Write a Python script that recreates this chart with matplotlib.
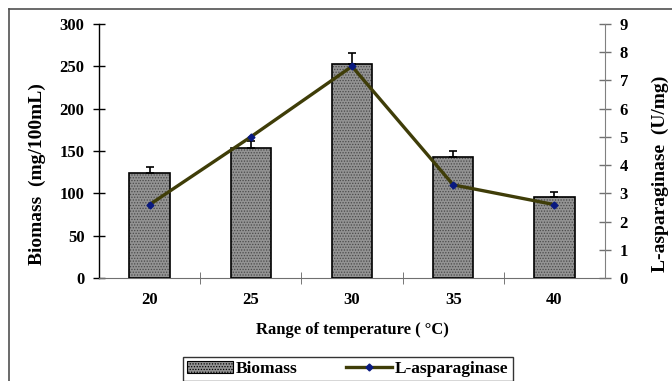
import matplotlib
matplotlib.use("Agg")
import matplotlib.pyplot as plt
from matplotlib.lines import Line2D
from matplotlib.patches import Patch
import numpy as np

plt.rcParams['font.family'] = ['Liberation Serif', 'DejaVu Serif']
plt.rcParams['font.weight'] = 'bold'
plt.rcParams['hatch.linewidth'] = 0.6

# Data
temperatures = ["20", "25", "30", "35", "40"]
biomass = [124, 153, 253, 143, 96]
biomass_err = [7, 9, 13, 7, 5]
asparaginase = [2.6, 5.0, 7.5, 3.3, 2.6]

BAR_FACE = '#939393'
LINE_COLOR = '#3f3d08'
MARK_COLOR = '#0a1a80'

fig = plt.figure(figsize=(6.72, 3.81), dpi=100)
ax = fig.add_axes([0.1473, 0.2703, 0.7530, 0.6667])
x = np.arange(len(temperatures))

# Biomass bars with fine checker texture
ax.bar(x, biomass, width=0.4, color=BAR_FACE, hatch='......', edgecolor='#4a4a4a',
       linewidth=0, zorder=2)
ax.bar(x, biomass, width=0.4, fill=False, edgecolor='black', linewidth=1.2, zorder=3)
ax.errorbar(x, biomass, yerr=[np.zeros(len(biomass)), biomass_err], fmt='none',
            ecolor='black', elinewidth=1.2, capsize=3.2, capthick=1.2, zorder=4)

ax.set_xlim(-0.5, 4.5)
ax.set_ylim(0, 300)
ax.set_yticks(range(0, 301, 50))
ax.set_xticks(x)
ax.set_xticklabels(temperatures)
ax.set_xticks(np.arange(0.5, 4.0, 1.0), minor=True)
ax.tick_params(axis='x', which='major', length=0, pad=10, labelsize=12)
ax.tick_params(axis='x', which='minor', direction='inout', length=8, color='#606060')
ax.tick_params(axis='y', direction='inout', length=9, width=1, labelsize=12, pad=6)
ax.spines['top'].set_visible(False)
ax.spines['right'].set_visible(False)
ax.spines['left'].set_linewidth(1.0)
ax.spines['bottom'].set_color('#707070')
ax.set_ylabel("Biomass  (mg/100mL)", fontsize=14, fontweight='bold')
ax.yaxis.set_label_coords(-0.105, 0.41)
ax.set_xlabel("Range of temperature ( °C)", fontsize=12, fontweight='bold', labelpad=10)

# L-asparaginase line on secondary axis
ax2 = ax.twinx()
ax2.plot(x, asparaginase, color=LINE_COLOR, linewidth=2.4, marker='D', markersize=3.5,
         markerfacecolor=MARK_COLOR, markeredgecolor=MARK_COLOR, zorder=5)
ax2.set_ylim(0, 9)
ax2.set_yticks(range(0, 10))
ax2.tick_params(axis='y', direction='inout', length=9, width=1, color='#707070',
                labelsize=12, pad=6)
for s in ['top', 'left', 'bottom']:
    ax2.spines[s].set_visible(False)
ax2.spines['right'].set_color('#808080')
ax2.set_ylabel("L-asparaginase  (U/mg)", fontsize=14, fontweight='bold')
ax2.yaxis.set_label_coords(1.093, 0.41)

handles = [
    Patch(facecolor=BAR_FACE, hatch='......', edgecolor='black', linewidth=0.8),
    Line2D([0], [0], color=LINE_COLOR, linewidth=2.4, marker='D', markersize=3.5,
           markerfacecolor=MARK_COLOR, markeredgecolor=MARK_COLOR),
]
leg = fig.legend(handles, ["Biomass", "L-asparaginase"], loc='center',
                 bbox_to_anchor=(0.518, 0.0315), ncol=2, frameon=True, fancybox=False,
                 edgecolor='black', handlelength=2.6, handletextpad=0.2,
                 columnspacing=2.8, borderpad=0.25, prop={'weight': 'bold', 'size': 12.5})
leg.get_frame().set_linewidth(1.0)

# Figure frame lines on the left and top
fig.add_artist(Line2D([0.0134, 0.0134], [0.0, 0.977], transform=fig.transFigure,
                      color='#505050', linewidth=1.2))
fig.add_artist(Line2D([0.0134, 1.0], [0.977, 0.977], transform=fig.transFigure,
                      color='#505050', linewidth=1.2))

fig.savefig("out.png", dpi=100)
